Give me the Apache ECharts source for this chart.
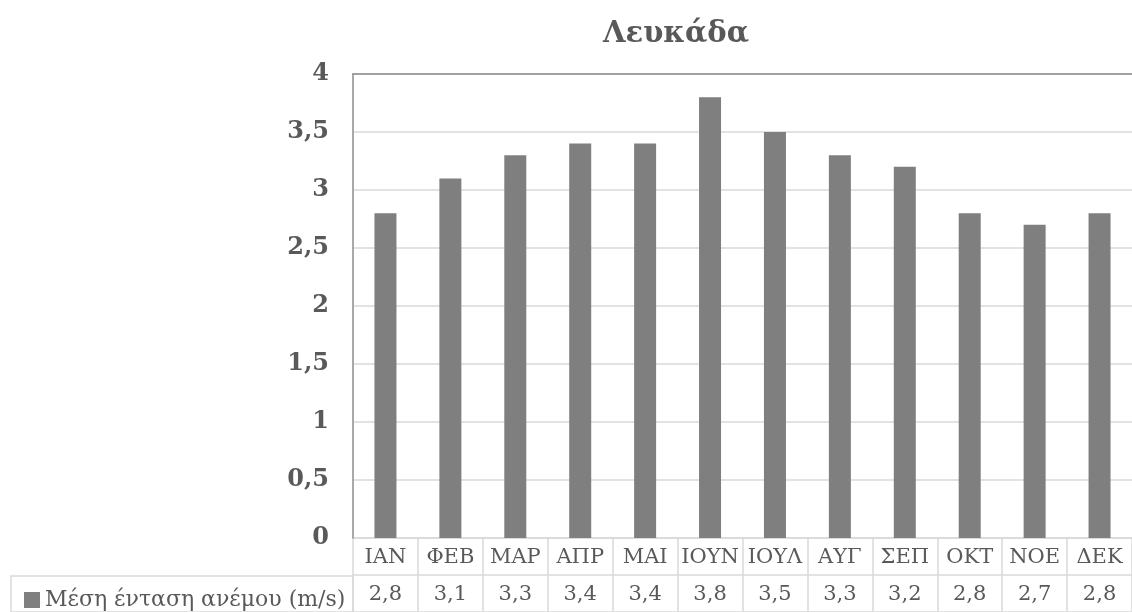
<!DOCTYPE html>
<html><head><meta charset="utf-8">
<script src="https://cdn.jsdelivr.net/npm/echarts@6/dist/echarts.min.js"></script>
<style>html,body{margin:0;padding:0;background:#fff}#c{width:1132px;height:612px}</style>
</head><body><div id="c"></div>
<script>
const title = 'Λευκάδα';
const seriesName = 'Μέση ένταση ανέμου (m/s)';
const months = ['ΙΑΝ','ΦΕΒ','ΜΑΡ','ΑΠΡ','ΜΑΙ','ΙΟΥΝ','ΙΟΥΛ','ΑΥΓ','ΣΕΠ','ΟΚΤ','ΝΟΕ','ΔΕΚ'];
const windSpeed = [2.8, 3.1, 3.3, 3.4, 3.4, 3.8, 3.5, 3.3, 3.2, 2.8, 2.7, 2.8];
const yTicks = {min: 0, max: 4, interval: 0.5};

const FONT = 'DejaVu Serif';
const TXT = '#595959';
const comma = v => String(v).replace('.', ',');

const chart = echarts.init(document.getElementById('c'), null, {renderer: 'canvas'});
chart.setOption({
  animation: false,
  backgroundColor: '#fff',
  title: {text: title, left: 671, top: 15, textAlign: 'center',
    textStyle: {fontFamily: FONT, fontWeight: 'bold', fontSize: 29, color: TXT}},
  legend: {data: [seriesName], left: 19, top: 584, icon: 'rect', itemWidth: 16, itemHeight: 16,
    itemGap: 4, textStyle: {fontFamily: FONT, fontSize: 22, color: TXT}, selectedMode: false},
  grid: [
    {left: 353, top: 74, width: 786, height: 464, containLabel: false},
    {left: 353, top: 538, width: 786, height: 76, containLabel: false},
    {left: 11, top: 576, width: 342, height: 40, show: true, borderColor: '#d9d9d9', borderWidth: 1.5, backgroundColor: 'transparent'}
  ],
  xAxis: [
    {gridIndex: 0, type: 'category', data: months, position: 'bottom',
      axisLine: {show: false}, axisTick: {show: false},
      axisLabel: {margin: 9, fontFamily: FONT, fontSize: 21, color: TXT, interval: 0}},
    {gridIndex: 0, type: 'category', data: windSpeed.map(comma), position: 'bottom', offset: 38,
      axisLine: {show: false}, axisTick: {show: false},
      axisLabel: {margin: 8, fontFamily: FONT, fontSize: 21, color: TXT, interval: 0}},
    {gridIndex: 0, type: 'category', data: months, position: 'top',
      axisLine: {show: true, lineStyle: {color: '#8c8c8c', width: 1.5}}, axisTick: {show: false}, axisLabel: {show: false}},
    {gridIndex: 1, type: 'category', data: months, position: 'top',
      axisLine: {show: false}, axisTick: {show: false}, axisLabel: {show: false},
      splitLine: {show: true, interval: 0, lineStyle: {color: '#d9d9d9', width: 1.5}}},
    {gridIndex: 2, type: 'category', data: [''], show: false}
  ],
  yAxis: [
    {gridIndex: 0, type: 'value', min: yTicks.min, max: yTicks.max, interval: yTicks.interval,
      axisLine: {show: true, lineStyle: {color: '#8c8c8c', width: 1.5}}, axisTick: {show: false},
      splitLine: {lineStyle: {color: '#d9d9d9', width: 1.5}},
      axisLabel: {margin: 24, fontFamily: FONT, fontWeight: 'bold', fontSize: 24, color: TXT, formatter: comma}},
    {gridIndex: 1, type: 'value', min: 0, max: 2, interval: 1, inverse: true,
      axisLine: {show: false}, axisTick: {show: false}, axisLabel: {show: false},
      splitLine: {show: true, lineStyle: {color: '#d9d9d9', width: 1.5}}},
    {gridIndex: 2, type: 'value', show: false}
  ],
  series: [{
    name: seriesName, type: 'bar', xAxisIndex: 0, yAxisIndex: 0,
    data: windSpeed, barWidth: 22, itemStyle: {color: '#7f7f7f'}
  }]
});
</script></body></html>
